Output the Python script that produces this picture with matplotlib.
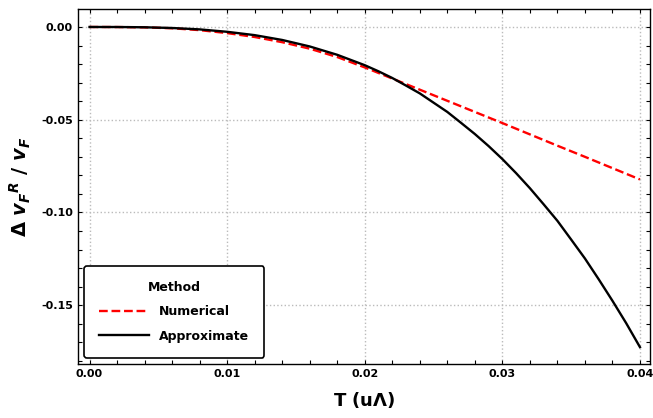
import matplotlib.pyplot as plt
from matplotlib.ticker import MultipleLocator

plt.rcParams['font.family'] = 'DejaVu Sans'
plt.rcParams['font.weight'] = 'bold'
plt.rcParams['mathtext.fontset'] = 'custom'
plt.rcParams['mathtext.rm'] = 'DejaVu Sans:bold'
plt.rcParams['mathtext.it'] = 'DejaVu Sans:italic:bold'
plt.rcParams['mathtext.bf'] = 'DejaVu Sans:bold'

# temperature grid for the numerical curve
T_num = [0.000, 0.002, 0.004, 0.006, 0.008, 0.010, 0.012, 0.014, 0.016, 0.018, 0.020,
         0.022, 0.024, 0.026, 0.028, 0.030, 0.032, 0.034, 0.036, 0.038, 0.040]
numerical = [0.0, -0.00003, -0.0002, -0.0007, -0.0017, -0.0033, -0.0054, -0.0082, -0.0117,
             -0.0162, -0.0218, -0.0278, -0.0338, -0.0398, -0.0458, -0.0518, -0.0579,
             -0.0640, -0.0700, -0.0761, -0.0822]

# approximate curve, denser where it bends
T_app = [0.000, 0.002, 0.004, 0.006, 0.008, 0.010, 0.012, 0.014, 0.016, 0.018, 0.020,
         0.021, 0.022, 0.023, 0.024, 0.025, 0.026, 0.027, 0.028, 0.029, 0.030,
         0.031, 0.032, 0.033, 0.034, 0.035, 0.036, 0.037, 0.038, 0.039, 0.040]
approximate = [0.0, -0.00002, -0.00016, -0.00055, -0.0013, -0.0026, -0.0044, -0.0070, -0.0105,
               -0.0150, -0.0206, -0.0239, -0.0275, -0.0316, -0.0358, -0.0408, -0.0458,
               -0.0517, -0.0577, -0.0642, -0.0712, -0.0788, -0.0869, -0.0956, -0.1045,
               -0.1146, -0.1248, -0.1360, -0.1476, -0.1597, -0.1726]

fig = plt.figure(figsize=(6.53, 4.18), dpi=100)
ax = fig.add_axes([0.1194, 0.1292, 0.8760, 0.8493])

ax.plot(T_num, numerical, '--', color='#FF0000', lw=1.7, label='Numerical')
ax.plot(T_app, approximate, '-', color='black', lw=1.7, label='Approximate')

ax.set_xlim([-0.00084, 0.04073])
ax.set_ylim([-0.1817, 0.0097])

ax.xaxis.set_major_locator(MultipleLocator(0.01))
ax.xaxis.set_minor_locator(MultipleLocator(0.002))
ax.yaxis.set_major_locator(MultipleLocator(0.05))
ax.yaxis.set_minor_locator(MultipleLocator(0.01))
ax.tick_params(which='both', direction='in', top=True, right=True, length=3, width=0.8,
               labelsize=8)
ax.set_xticklabels(['%.2f' % v for v in ax.get_xticks()], fontweight='bold')
ax.set_yticklabels(['%.2f' % v if abs(v) > 1e-9 else '0.00' for v in ax.get_yticks()],
                   fontweight='bold')

ax.grid(which='major', color='#BBBBBB', linestyle=':', lw=1)
for s in ax.spines.values():
    s.set_linewidth(1.0)

ax.set_xlabel(r'T (u$\Lambda$)', fontsize=13, fontweight='bold', labelpad=8)
ax.set_ylabel(r'$\Delta\ {v_F}^R\ /\ v_F$', fontsize=14, labelpad=6)

leg = ax.legend(title='Method', loc='lower left', fontsize=9,
                title_fontproperties={'weight': 'bold', 'size': 9},
                handlelength=4, borderpad=1.2, labelspacing=0.9, fancybox=True,
                framealpha=1, edgecolor='black', borderaxespad=0.5)
leg.get_frame().set_linewidth(1.2)

plt.savefig('out.png', dpi=100)
